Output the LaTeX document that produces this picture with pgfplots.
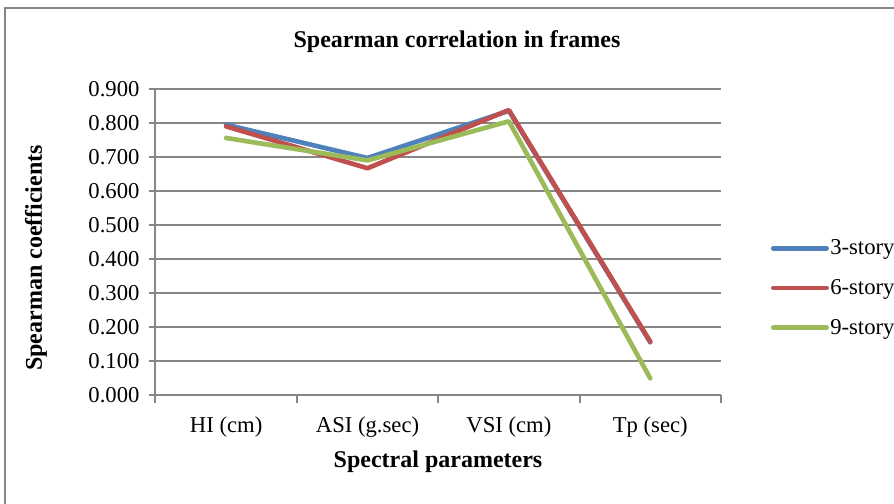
\documentclass[border=0pt]{standalone}
\usepackage{pgfplots}
\pgfplotsset{compat=1.18}
\usepackage{fontspec}
\setmainfont{Liberation Serif}
\definecolor{sblue}{HTML}{4F81BD}
\definecolor{sred}{HTML}{C0504D}
\definecolor{sgreen}{HTML}{9BBB59}
\definecolor{sgrid}{HTML}{868686}
\begin{document}
\begin{tikzpicture}
\useasboundingbox (0pt,0pt) rectangle (670.5pt,378pt);
\draw[sgrid, line width=1.5pt] (3.75pt,-2pt) -- (3.75pt,372pt) -- (672pt,372pt);
\begin{axis}[
  at={(116.6pt,81.75pt)}, anchor=south west,
  scale only axis, width=424.1pt, height=229.5pt,
  xmin=0.5, xmax=4.5, ymin=0, ymax=0.9,
  ytick={0,0.1,...,0.9},
  xtick={1,2,3,4},
  xticklabels={HI (cm), ASI (g.sec), VSI (cm), Tp (sec)},
  major x tick style={draw=none},
  minor xtick={0.5,1.5,2.5,3.5,4.5},
  tick align=outside,
  major tick length=4.5pt,
  minor tick length=6pt,
  axis line style={draw=none},
  axis x line*=bottom, axis y line*=left,
  tick style={sgrid, line width=1.5pt},
  ymajorgrids, grid style={sgrid, line width=1.5pt},
  yticklabel style={/pgf/number format/.cd, fixed, fixed zerofill, precision=3, /tikz/.cd, xshift=-4pt},
  /pgf/number format/assume math mode=true,
  ticklabel style={font=\fontsize{17}{20}\selectfont, black},
  xticklabel style={yshift=-8pt},
  legend style={at={(1.088,0.35)}, anchor=west, draw=none, fill=none,
    font=\fontsize{17}{20}\selectfont, row sep=15pt, inner sep=0pt,
    nodes={inner sep=1pt}},
  legend cell align=left,
  legend image code/.code={\draw[#1, line cap=round] (0pt,0pt) -- (40pt,0pt);},
  every axis plot/.append style={line width=3.5pt, line cap=round, line join=round},
  clip=false,
]
\draw[sgrid, line width=1.5pt] (axis cs:0.5,0) -- (axis cs:4.5,0);
\draw[sgrid, line width=1.5pt] (axis cs:0.5,0) -- (axis cs:0.5,0.9);
\addplot[sblue] coordinates {(1,0.795) (2,0.697) (3,0.836) (4,0.155)};
\addlegendentry{3-story}
\addplot[sred] coordinates {(1,0.790) (2,0.667) (3,0.838) (4,0.157)};
\addlegendentry{6-story}
\addplot[sgreen] coordinates {(1,0.756) (2,0.690) (3,0.805) (4,0.049)};
\addlegendentry{9-story}
\end{axis}
\node[font=\fontsize{18}{22}\selectfont\bfseries] at (342.75pt,346.5pt) {Spearman correlation in frames};
\node[font=\fontsize{18}{22}\selectfont\bfseries, rotate=90] at (27pt,184.5pt) {Spearman coefficients};
\node[font=\fontsize{18}{22}\selectfont\bfseries] at (328.5pt,31.5pt) {Spectral parameters};
\end{tikzpicture}
\end{document}
